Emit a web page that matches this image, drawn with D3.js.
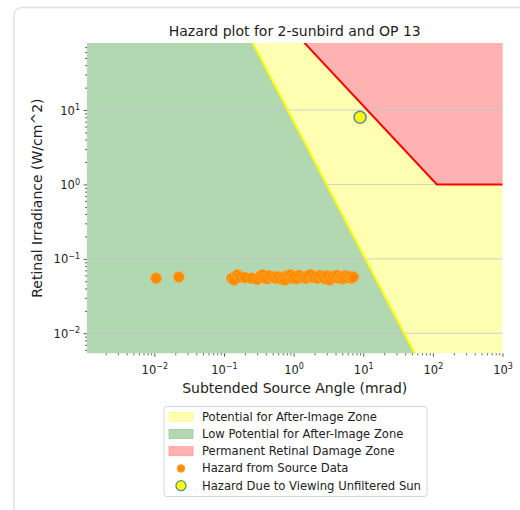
<!DOCTYPE html>
<html><head><meta charset="utf-8">
<script src="https://cdn.jsdelivr.net/npm/d3@7/dist/d3.min.js"></script>
<style>
body{margin:0;background:#fff;font-family:"DejaVu Sans",sans-serif;}
</style></head>
<body><svg id="c" width="520" height="510"></svg>
<script>
// ---- data ----
const title = "Hazard plot for 2-sunbird and OP 13";
const xLabel = "Subtended Source Angle (mrad)";
const yLabel = "Retinal Irradiance (W/cm^2)";
const xDomain = [0.00108, 1000];
const yDomain = [0.00538, 79.5];
const xMajorTicks = [0.01, 0.1, 1, 10, 100, 1000];
const yMajorTicks = [0.01, 0.1, 1, 10];
// boundary of after-image zone (yellow line)
const afterImageX = [0.25, 57];
const afterImageY = [85, 0.005];
// boundary of permanent retinal damage zone (red line)
const damageX = [1.3, 114, 1000];
const damageY = [88, 1, 1];
// hazard from source data
const sourceX = [0.0106, 0.0225, 0.13, 0.14, 0.155, 0.17, 0.2, 0.25, 0.3, 0.33, 0.36, 0.38, 0.42, 0.45, 0.5, 0.55, 0.6, 0.65, 0.7, 0.75, 0.8, 0.85, 0.9, 0.95, 1.0, 1.1, 1.2, 1.3, 1.4, 1.5, 1.6, 1.75, 1.9, 2.0, 2.2, 2.4, 2.6, 2.8, 3.0, 3.3, 3.6, 3.9, 4.2, 4.5, 4.8, 5.1, 5.5, 5.9, 6.3, 6.8, 7.2];
const sourceY = [0.055, 0.057, 0.055, 0.052, 0.061, 0.057, 0.056, 0.055, 0.053, 0.058, 0.061, 0.056, 0.054, 0.059, 0.057, 0.055, 0.058, 0.054, 0.056, 0.052, 0.059, 0.056, 0.061, 0.055, 0.058, 0.054, 0.06, 0.056, 0.057, 0.055, 0.059, 0.061, 0.056, 0.058, 0.055, 0.06, 0.057, 0.054, 0.059, 0.052, 0.058, 0.056, 0.06, 0.055, 0.057, 0.054, 0.059, 0.056, 0.058, 0.055, 0.057];
// hazard due to viewing unfiltered sun
const sunX = [9.0];
const sunY = [8.0];
const legendLabels = ["Potential for After-Image Zone", "Low Potential for After-Image Zone", "Permanent Retinal Damage Zone", "Hazard from Source Data", "Hazard Due to Viewing Unfiltered Sun"];

// ---- drawing ----
const svg = d3.select("#c");
const L = 87, R = 502.5, T = 43, B = 353.3;
const x = d3.scaleLog().domain(xDomain).range([L, R]);
const y = d3.scaleLog().domain(yDomain).range([B, T]);

// card border
svg.append("rect").attr("x", 14).attr("y", 7.5).attr("width", 540).attr("height", 540)
  .attr("rx", 8).attr("fill", "#fff").attr("stroke", "#e2e2e2").attr("stroke-width", 1.5);

const C = {yellow: "#ffffb2", green: "#b2d8b2", red: "#ffb2b2"};

svg.append("clipPath").attr("id", "clip").append("rect")
  .attr("x", L).attr("y", T).attr("width", R - L).attr("height", B - T);
const plot = svg.append("g").attr("clip-path", "url(#clip)");

const [x0, x1] = xDomain, [y0, y1] = yDomain;
const line = d3.line().x(d => x(d[0])).y(d => y(d[1]));
// yellow background zone
plot.append("rect").attr("x", x(x0)).attr("y", y(y1)).attr("width", x(x1) - x(x0)).attr("height", y(y0) - y(y1)).attr("fill", C.yellow);
// green zone: below after-image line
const slope = (Math.log10(afterImageY[1]) - Math.log10(afterImageY[0])) / (Math.log10(afterImageX[1]) - Math.log10(afterImageX[0]));
const yAt = xv => afterImageY[0] * Math.pow(xv / afterImageX[0], slope);
const greenPoly = [[x0 / 2, y1 * 3], [afterImageX[0] * 0.8, yAt(afterImageX[0] * 0.8)], [afterImageX[1] * 1.2, yAt(afterImageX[1] * 1.2)], [x0 / 2, yAt(afterImageX[1] * 1.2)]];
plot.append("path").attr("d", line(greenPoly) + "Z").attr("fill", C.green).attr("stroke", "#9cc89c").attr("stroke-width", 0.8);
// red zone
const dSlope = (Math.log10(damageY[1]) - Math.log10(damageY[0])) / (Math.log10(damageX[1]) - Math.log10(damageX[0]));
const dAt = xv => damageY[0] * Math.pow(xv / damageX[0], dSlope);
const redPoly = [[damageX[0] * 0.8, dAt(damageX[0] * 0.8)], [damageX[1], damageY[1]], [damageX[2], damageY[2]], [damageX[2], y1 * 3], [damageX[0] * 0.8, y1 * 3]];
plot.append("path").attr("d", line(redPoly) + "Z").attr("fill", C.red).attr("stroke", "#ff9a9a").attr("stroke-width", 0.8);

// grid
svg.append("g").selectAll("line").data(yMajorTicks).join("line")
  .attr("x1", L).attr("x2", R).attr("y1", d => y(d)).attr("y2", d => y(d))
  .attr("stroke", "#c4c4c4").attr("stroke-width", 0.8);

// boundary lines (above grid)
const lines = svg.append("g").attr("clip-path", "url(#clip)");
lines.append("path").attr("d", line([[afterImageX[0] * 0.8, yAt(afterImageX[0] * 0.8)], [afterImageX[1] * 1.2, yAt(afterImageX[1] * 1.2)]]))
  .attr("fill", "none").attr("stroke", "#ffff00").attr("stroke-width", 2);
lines.append("path").attr("d", line([[damageX[0] * 0.8, dAt(damageX[0] * 0.8)], [damageX[1], damageY[1]], [damageX[2] * 1.2, damageY[2]]]))
  .attr("fill", "none").attr("stroke", "#ff0000").attr("stroke-width", 2);

// points
svg.append("g").selectAll("circle").data(sourceX.map((v, i) => [v, sourceY[i]])).join("circle")
  .attr("cx", d => x(d[0])).attr("cy", d => y(d[1])).attr("r", 5.3)
  .attr("fill", "#ff8a00").attr("stroke", "#ffa12a").attr("stroke-width", 1);
svg.append("g").selectAll("circle").data(sunX.map((v, i) => [v, sunY[i]])).join("circle")
  .attr("cx", d => x(d[0])).attr("cy", d => y(d[1])).attr("r", 6)
  .attr("fill", "#ffff00").attr("stroke", "#5a8c9c").attr("stroke-width", 1.5);

// axes
const supLabel = (sel, d) => {
  const e = Math.round(Math.log10(d));
  sel.text("10");
  sel.append("tspan").attr("dy", "-0.55em").attr("font-size", "8px").text(String(e).replace("-", "\u2212"));
};
function minors(domain) {
  const out = [];
  for (let e = -4; e <= 3; e++) for (let m = 2; m <= 9; m++) {
    const v = m * Math.pow(10, e);
    if (v >= domain[0] && v <= domain[1]) out.push(v);
  }
  return out;
}
const tickColor = "#333";
const gx = svg.append("g").attr("transform", `translate(0,${B})`);
gx.call(d3.axisBottom(x).tickValues(minors(xDomain)).tickSize(2).tickFormat(""));
gx.call(g => g.select(".domain").remove());
const gxM = svg.append("g").attr("transform", `translate(0,${B})`);
gxM.call(d3.axisBottom(x).tickValues(xMajorTicks).tickSize(3.5).tickFormat(""));
gxM.select(".domain").remove();
gxM.selectAll(".tick").append("text").attr("y", 20.5).attr("text-anchor", "middle")
  .attr("fill", "#222").attr("font-size", "11.5px").attr("font-family", "DejaVu Sans")
  .each(function (d) { supLabel(d3.select(this), d); });

const gy = svg.append("g").attr("transform", `translate(${L},0)`);
gy.call(d3.axisLeft(y).tickValues(minors(yDomain)).tickSize(2).tickFormat(""));
gy.select(".domain").remove();
const gyM = svg.append("g").attr("transform", `translate(${L},0)`);
gyM.call(d3.axisLeft(y).tickValues(yMajorTicks).tickSize(3.5).tickFormat(""));
gyM.select(".domain").remove();
gyM.selectAll(".tick").append("text").attr("x", -7).attr("y", 4).attr("text-anchor", "end")
  .attr("fill", "#222").attr("font-size", "11.5px").attr("font-family", "DejaVu Sans")
  .each(function (d) { supLabel(d3.select(this), d); });
svg.selectAll(".tick line").attr("stroke", tickColor).attr("stroke-width", 0.8);

// texts
svg.append("text").attr("x", (L + R) / 2).attr("y", 36).attr("text-anchor", "middle")
  .attr("font-size", "14px").attr("fill", "#222").text(title);
svg.append("text").attr("x", (L + R) / 2).attr("y", 393).attr("text-anchor", "middle")
  .attr("font-size", "14px").attr("fill", "#222").text(xLabel);
svg.append("text").attr("transform", `translate(42,${(T + B) / 2}) rotate(-90)`).attr("text-anchor", "middle")
  .attr("font-size", "14px").attr("fill", "#222").text(yLabel);

// legend
const lg = svg.append("g");
lg.append("rect").attr("x", 164).attr("y", 406.5).attr("width", 263).attr("height", 90).attr("rx", 3)
  .attr("fill", "#fff").attr("stroke", "#d6d6d6").attr("stroke-width", 1);
const rowY = i => 416.7 + i * 17.25;
const patchFill = [C.yellow, C.green, C.red];
const patchStroke = ["#ffff88", "#9cc89c", "#ff9a9a"];
patchFill.forEach((f, i) => lg.append("rect").attr("x", 169).attr("y", rowY(i) - 4.5).attr("width", 24).attr("height", 9)
  .attr("fill", f).attr("stroke", patchStroke[i]).attr("stroke-width", 0.8));
lg.append("circle").attr("cx", 181).attr("cy", rowY(3)).attr("r", 3.8).attr("fill", "#ff8a00").attr("stroke", "#ffa12a");
lg.append("circle").attr("cx", 181).attr("cy", rowY(4)).attr("r", 5).attr("fill", "#ffff00").attr("stroke", "#5a8c9c").attr("stroke-width", 1.3);
legendLabels.forEach((t, i) => lg.append("text").attr("x", 202).attr("y", rowY(i) + 4).attr("font-size", "11.6px").attr("fill", "#222").text(t));
</script></body></html>
